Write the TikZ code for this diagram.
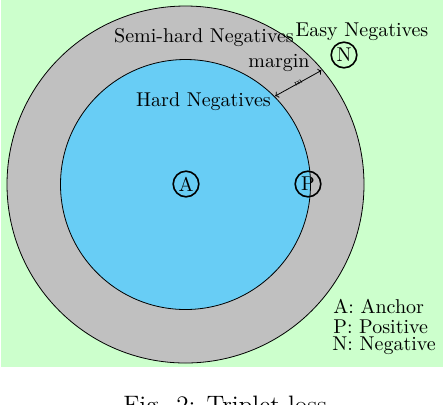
\documentclass[tikz,border=0pt]{standalone}
\usepackage{xcolor}
\usepackage{tikz}
\usetikzlibrary{
  arrows.meta,
  positioning,
  calc
}
\definecolor{tlEasy}{RGB}{204,255,204}
\definecolor{tlSemi}{RGB}{192,192,192}
\definecolor{tlHard}{RGB}{104,205,245}
\tikzset{
  region/.style={draw=black, thin},
  sample/.style={draw, circle, thick, minimum size=12.8pt, inner sep=0pt, font=\normalsize},
  zonelabel/.style={anchor=base, font=\normalsize, inner sep=0pt},
  legend/.style={anchor=base west, font=\normalsize, inner sep=0pt},
  marginarrow/.style={{To[length=1.6pt]}-{To[length=1.6pt]}, thin},
  caption/.style={anchor=base, font=\fontsize{12.6}{15}\selectfont, inner sep=0pt}
}
\begin{document}
\begin{tikzpicture}[x=0.5pt, y=-0.5pt]
  \useasboundingbox (0,0) rectangle (444,404);
  % easy / semi-hard / hard regions
  \fill[tlEasy] (1,0) rectangle (443,367);
  \coordinate (c) at (185.5,184.5);
  \filldraw[region, fill=tlSemi] (c) circle[radius=178.5];
  \filldraw[region, fill=tlHard] (c) circle[radius=125];

  \node[zonelabel] (semi) at (204,42) {Semi-hard Negatives};
  \node[zonelabel] (hard) at (203.5,106) {Hard Negatives};
  \node[zonelabel] (easy) at (362,36) {Easy Negatives};

  % samples
  \node[sample] (A) at (186,184) {A};
  \node[sample] (P) at (308,184) {P};
  \node[sample] (N) at (344,55) {N};

  % margin between the two circles (y axis points down)
  \coordinate (mIn) at ($(c)+(-44.6:126)$);
  \coordinate (mOut) at ($(c)+(-40:177.5)$);
  \draw[marginarrow] (mIn) -- node[sloped, font=\fontsize{4}{4}\selectfont, inner sep=0pt] (m) {m} (mOut);
  \node[zonelabel] (margin) at (279,67) {margin};

  % legend
  \node[legend] (lA) at (333,313) {A: Anchor};
  \node[legend] (lP) at (333,333) {P: Positive};
  \node[legend] (lN) at (332,350) {N: Negative};

  \node[caption] (cap) at (225,413) {Fig. 2: Triplet loss};
\end{tikzpicture}
\end{document}
